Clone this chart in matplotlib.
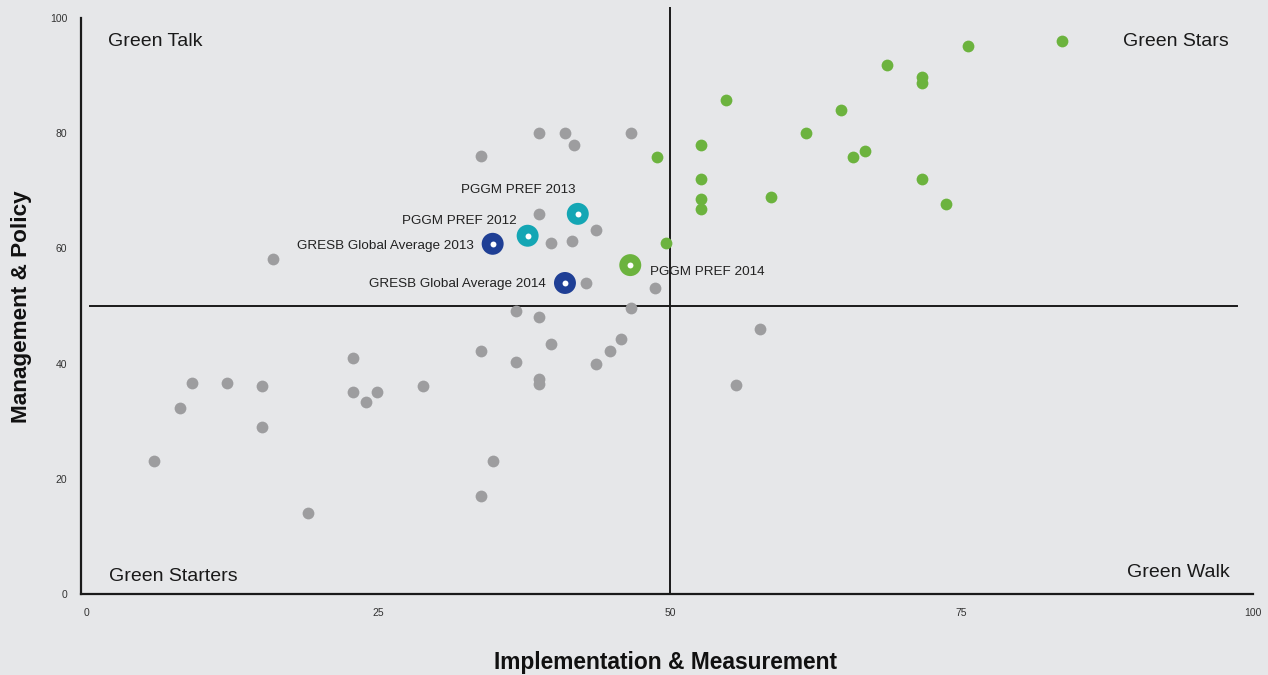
import matplotlib.pyplot as plt

plt.rcParams['font.family'] = ['Liberation Sans', 'DejaVu Sans']

# Other participants (grey)
grey_x = [5.8, 8.0, 9.0, 12.0, 15.0, 15.0, 16.0, 19.0, 22.8, 22.8, 23.9, 24.9, 28.8,
          33.8, 33.8, 33.8, 34.8, 36.8, 36.8, 38.8, 38.8, 38.8, 38.8, 38.8, 39.8, 39.8,
          41.0, 41.8, 41.6, 42.8, 43.7, 43.7, 44.9, 45.8, 46.7, 46.7, 48.7, 55.7, 57.7]
grey_y = [23.1, 32.3, 36.6, 36.6, 36.1, 29.0, 58.2, 14.1, 41.0, 35.1, 33.3, 35.1, 36.1,
          76.0, 42.2, 17.0, 23.1, 49.1, 40.3, 80.0, 66.0, 48.1, 37.3, 36.5, 60.9, 43.4,
          80.0, 78.0, 61.3, 54.0, 63.2, 39.9, 42.2, 44.3, 80.0, 49.7, 53.1, 36.3, 46.0]

# Green Stars (green)
green_x = [48.9, 49.7, 52.7, 52.7, 52.7, 52.7, 54.8, 58.7, 61.7, 64.7, 65.7, 66.7,
           68.6, 71.6, 71.6, 71.6, 73.7, 75.6, 83.6]
green_y = [75.9, 60.9, 78.0, 72.0, 68.6, 66.8, 85.8, 68.9, 80.0, 84.0, 75.9, 76.9,
           91.8, 89.8, 88.7, 72.0, 67.7, 95.1, 96.0]

# Highlighted funds
hl_names = ["GRESB Global Average 2013", "PGGM PREF 2012", "PGGM PREF 2013",
            "GRESB Global Average 2014", "PGGM PREF 2014"]
hl_x = [34.8, 37.8, 42.1, 41.0, 46.6]
hl_y = [60.8, 62.2, 66.0, 54.0, 57.1]
hl_colors = ["#1f3f95", "#14a6b4", "#14a6b4", "#1f3f95", "#6cb33e"]
# label anchor positions (data units) and alignment
hl_label_x = [33.2, 36.9, 37.0, 39.4, 48.3]
hl_label_y = [60.4, 64.8, 70.2, 53.8, 55.9]
hl_label_ha = ["right", "right", "center", "right", "left"]

bg = "#e6e7e9"
fig = plt.figure(figsize=(12.68, 6.75), dpi=100, facecolor=bg)
ax = fig.add_axes([81 / 1268, 81 / 675, (1253 - 81) / 1268, (594 - 6.5) / 675])
ax.set_facecolor(bg)

ax.scatter(grey_x, grey_y, s=72, color="#9d9d9f", linewidths=0, zorder=3)
ax.scatter(green_x, green_y, s=72, color="#6cb33e", linewidths=0, zorder=3)
ax.scatter(hl_x, hl_y, s=250, color=hl_colors, linewidths=0, zorder=4)
ax.scatter(hl_x, hl_y, s=18, color="white", linewidths=0, zorder=5)

for name, lx, ly, ha in zip(hl_names, hl_label_x, hl_label_y, hl_label_ha):
    ax.text(lx, ly, name, ha=ha, va="center", fontsize=9.7, color="#222222")

# Quadrant dividers
ax.plot([50, 50], [0, 101.9], color="#1a1a1a", lw=1.4, zorder=2)
ax.plot([0.3, 98.6], [50, 50], color="#1a1a1a", lw=1.4, zorder=2)

# Quadrant names
ax.text(1.8, 96, "Green Talk", fontsize=14, ha="left", va="center", color="#1a1a1a")
ax.text(97.9, 96, "Green Stars", fontsize=14, ha="right", va="center", color="#1a1a1a")
ax.text(1.9, 3.0, "Green Starters", fontsize=14, ha="left", va="center", color="#1a1a1a")
ax.text(98.0, 3.7, "Green Walk", fontsize=14, ha="right", va="center", color="#1a1a1a")

ax.set_xlim(-0.5, 100)
ax.set_ylim(0, 102)
ax.set_xticks([0, 25, 50, 75, 100])
ax.set_yticks([0, 20, 40, 60, 80, 100])
ax.tick_params(length=0, labelsize=7.5, labelcolor="#333333")
ax.tick_params(axis="x", pad=10)
ax.tick_params(axis="y", pad=10)

for side in ["top", "right"]:
    ax.spines[side].set_visible(False)
ax.spines["left"].set_bounds(0, 100)
ax.spines["left"].set_linewidth(1.6)
ax.spines["bottom"].set_linewidth(1.6)
ax.spines["left"].set_color("#1a1a1a")
ax.spines["bottom"].set_color("#1a1a1a")

# Axis titles placed in figure pixels
fig.text(665 / 1268, 1 - 663 / 675, "Implementation & Measurement", fontsize=16.4,
         fontweight="bold", ha="center", va="center", color="#111111")
fig.text(22 / 1268, 1 - 307 / 675, "Management & Policy", fontsize=16.2,
         fontweight="bold", ha="center", va="center", rotation=90, color="#111111")

plt.savefig("out.png", dpi=100, facecolor=bg)
